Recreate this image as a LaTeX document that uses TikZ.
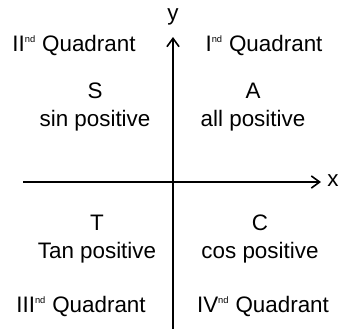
\documentclass[tikz,border=0pt]{standalone}
\usepackage{fontspec}
\setmainfont{Liberation Sans}
\usetikzlibrary{arrows.meta}

\begin{document}
\begin{tikzpicture}[
    x=0.75pt, y=-0.75pt,
    axis/.style={line width=1.4pt, -{Straight Barb[length=2.2mm, width=3.2mm, line width=1.2pt]}},
    quadlabel/.style={font=\fontsize{16.8}{20}\selectfont, inner sep=0pt},
    signlabel/.style={font=\fontsize{16.8}{21}\selectfont, align=center, inner sep=0pt}
]
\useasboundingbox (0,0) rectangle (340,329);

% axes
\coordinate (xstart) at (23,182);
\coordinate (xend) at (321,182);
\coordinate (ystart) at (173,329);
\coordinate (yend) at (173,37);
\draw[axis] (xstart) -- (xend);
\draw[axis] (ystart) -- (yend);
\node[quadlabel] (xlab) at (333,181) {x};
\node[quadlabel] (ylab) at (173,17) {y};

% quadrant names
\node[quadlabel] (q2) at (74,45) {II\textsuperscript{\scriptsize nd} Quadrant};
\node[quadlabel] (q1) at (264,45) {I\textsuperscript{\scriptsize nd} Quadrant};
\node[quadlabel] (q3) at (81,306) {III\textsuperscript{\scriptsize nd} Quadrant};
\node[quadlabel] (q4) at (263,306) {IV\textsuperscript{\scriptsize nd} Quadrant};

% signs
\node[signlabel] (s) at (95,107) {S\\sin positive};
\node[signlabel] (a) at (253,107) {A\\all positive};
\node[signlabel] (t) at (97,239) {T\\Tan positive};
\node[signlabel] (c) at (260,239) {C\\cos positive};

\end{tikzpicture}
\end{document}
